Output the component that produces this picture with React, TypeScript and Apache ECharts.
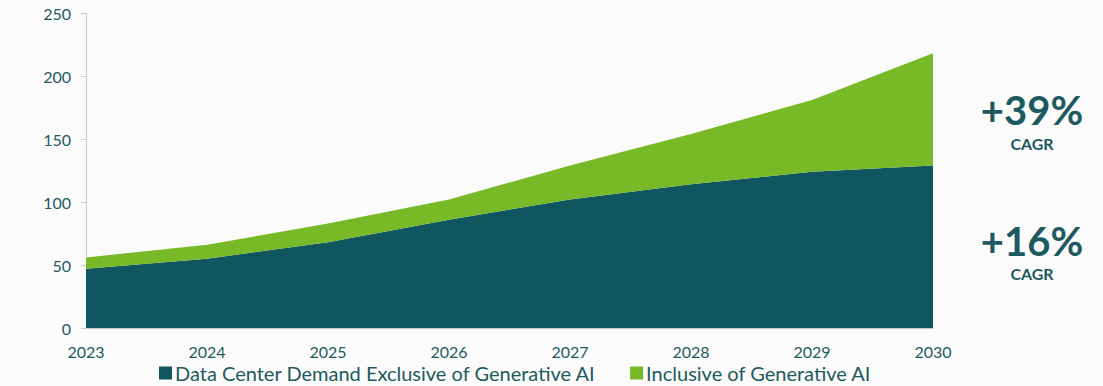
import React, { useEffect, useRef } from "react";
import * as echarts from "echarts";

const years = ["2023", "2024", "2025", "2026", "2027", "2028", "2029", "2030"];
const exclusiveGenAI = [47, 55, 68, 86, 102, 114, 124, 129];
const genAIIncrement = [9, 11, 15, 16, 27, 40, 57, 89];
const yTicks = { min: 0, max: 250, interval: 50 };
const seriesNames = ["Data Center Demand Exclusive of Generative AI", "Inclusive of Generative AI"];
const cagrLabels = ["+39%", "+16%"];

const DARK = "#0f5660";
const GREEN = "#78b928";
const TEXT = "#1d5a60";
const FONT = "Lato";

export default function App() {
  const ref = useRef<HTMLDivElement>(null);
  useEffect(() => {
    if (!ref.current) return;
    const chart = echarts.init(ref.current, undefined, { renderer: "svg" });
    chart.setOption({
      animation: false,
      backgroundColor: "#fbfbfb",
      textStyle: { fontFamily: FONT, color: TEXT },
      grid: { left: 86, right: 170, top: 13, bottom: 58, containLabel: false },
      legend: {
        bottom: -2,
        left: 154,
        itemWidth: 13,
        itemHeight: 13,
        itemGap: 34,
        icon: "rect",
        textStyle: { fontFamily: FONT, fontSize: 20, color: TEXT, padding: [0, 0, 0, -2] },
        data: seriesNames,
      },
      xAxis: {
        type: "category",
        data: years,
        boundaryGap: false,
        axisLine: { show: true, lineStyle: { color: "#c8c8c8" } },
        axisTick: { show: false },
        axisLabel: { fontFamily: FONT, fontSize: 16, color: TEXT, margin: 15 },
      },
      yAxis: {
        type: "value",
        min: yTicks.min,
        max: yTicks.max,
        interval: yTicks.interval,
        axisLine: { show: true, lineStyle: { color: "#c8c8c8" } },
        axisTick: { show: true, length: 5, lineStyle: { color: "#c8c8c8" } },
        splitLine: { show: false },
        axisLabel: { fontFamily: FONT, fontSize: 16, color: TEXT, margin: 15 },
      },
      series: [
        {
          name: seriesNames[0],
          type: "line",
          stack: "total",
          data: exclusiveGenAI,
          symbol: "none",
          lineStyle: { width: 0 },
          itemStyle: { color: DARK },
          areaStyle: { color: DARK, opacity: 1 },
        },
        {
          name: seriesNames[1],
          type: "line",
          stack: "total",
          data: genAIIncrement,
          symbol: "none",
          lineStyle: { width: 0 },
          itemStyle: { color: GREEN },
          areaStyle: { color: GREEN, opacity: 1 },
        },
      ],
      graphic: [
        {
          type: "text",
          x: 1032,
          y: 110,
          style: { text: cagrLabels[0], fontFamily: FONT, fontWeight: "bold", fontSize: 40, fill: TEXT, align: "center", verticalAlign: "middle" },
        },
        {
          type: "text",
          x: 1032,
          y: 143,
          style: { text: "CAGR", fontFamily: FONT, fontWeight: "bold", fontSize: 16, fill: TEXT, align: "center", verticalAlign: "middle" },
        },
        {
          type: "text",
          x: 1032,
          y: 241,
          style: { text: cagrLabels[1], fontFamily: FONT, fontWeight: "bold", fontSize: 40, fill: TEXT, align: "center", verticalAlign: "middle" },
        },
        {
          type: "text",
          x: 1032,
          y: 273,
          style: { text: "CAGR", fontFamily: FONT, fontWeight: "bold", fontSize: 16, fill: TEXT, align: "center", verticalAlign: "middle" },
        },
      ],
    });
    return () => chart.dispose();
  }, []);
  return (
    <div
      ref={ref}
      style={{ position: "absolute", left: 0, top: 0, width: 1103, height: 386 }}
    />
  );
}
